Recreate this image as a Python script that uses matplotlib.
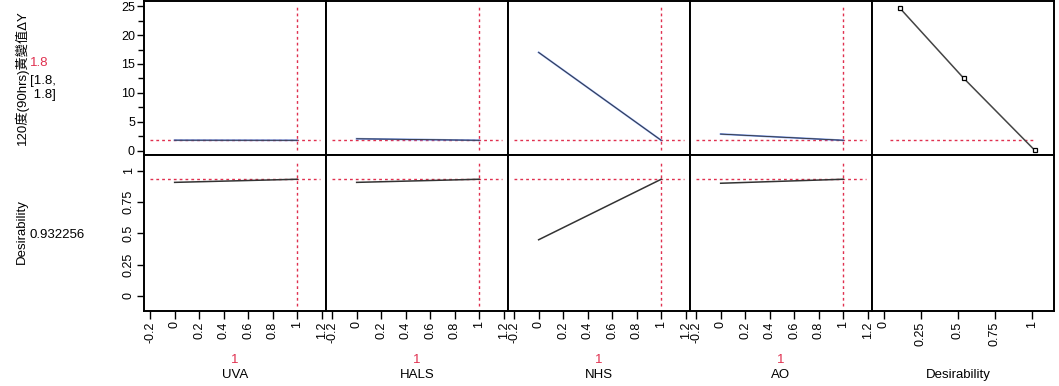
import numpy as np
import matplotlib
matplotlib.use("Agg")
import matplotlib.pyplot as plt
from matplotlib.ticker import MultipleLocator

plt.rcParams['font.family'] = ['Liberation Sans', 'Noto Sans CJK TC', 'DejaVu Sans']
plt.rcParams['font.size'] = 9

# profiler data
factors = ["UVA", "HALS", "NHS", "AO"]
factor_lo = [0, 0, 0, 0]
factor_hi = [1, 1, 1, 1]
current_x = [1, 1, 1, 1]
y_at_lo = [1.82, 2.07, 17.0, 2.88]
y_at_hi = [1.8, 1.8, 1.8, 1.8]
d_at_lo = [0.907, 0.907, 0.448, 0.900]
d_at_hi = [0.932, 0.932, 0.932, 0.932]
current_y = 1.8
current_d = 0.932256
y_ci = "[1.8,\n 1.8]"
resp_label = "120度(90hrs)黃變值ΔY"

# desirability function handles
desir_x = [0.106, 0.54, 1.018]
desir_y = [24.7, 12.5, 0.1]

red = "#e0304f"
W, H = 1059, 386
fig = plt.figure(figsize=(W / 100, H / 100), dpi=100)

def px_axes(x0, y0, x1, y1):
    return fig.add_axes([x0 / W, 1 - y1 / H, (x1 - x0) / W, (y1 - y0) / H])

col_x = [144, 326, 508, 690, 872, 1054]
row_y = [0.5, 155, 311]
fxlim = (-0.25, 1.235)
ylim_top = (-0.74, 25.98)
ylim_bot = (-0.122, 1.126)

axes = {}
for r in range(2):
    for c in range(5):
        ax = px_axes(col_x[c], row_y[r], col_x[c + 1], row_y[r + 1])
        for s in ax.spines.values():
            s.set_linewidth(1.4)
        ax.set_ylim(ylim_top if r == 0 else ylim_bot)
        ax.set_xlim(fxlim if c < 4 else (-0.081, 1.149))
        ax.tick_params(axis='both', which='both', direction='out', labelsize=9, pad=1.5)
        if c > 0:
            ax.tick_params(axis='y', which='both', left=False, labelleft=False)
        if r == 0:
            ax.tick_params(axis='x', which='both', bottom=False, labelbottom=False)
        axes[(r, c)] = ax

# top-left y axis
a = axes[(0, 0)]
a.yaxis.set_major_locator(MultipleLocator(5))
a.yaxis.set_minor_locator(MultipleLocator(2.5))
a.tick_params(axis='y', which='major', length=5, width=1)
a.tick_params(axis='y', which='minor', length=4, width=1)

a = axes[(1, 0)]
a.set_yticks([0, 0.25, 0.5, 0.75, 1])
a.set_yticklabels(["0", "0.25", "0.5", "0.75", "1"], rotation=90, va='center')
a.tick_params(axis='y', length=5, width=1)

for c in range(4):
    a = axes[(1, c)]
    a.set_xticks([-0.2, 0, 0.2, 0.4, 0.6, 0.8, 1, 1.2])
    a.set_xticklabels(["-0.2", "0", "0.2", "0.4", "0.6", "0.8", "1", "1.2"], rotation=90)
    a.tick_params(axis='x', length=6, width=1)
a = axes[(1, 4)]
a.set_xticks([0, 0.25, 0.5, 0.75, 1])
a.set_xticklabels(["0", "0.25", "0.5", "0.75", "1"], rotation=90)
a.tick_params(axis='x', length=6, width=1)

dash = (0, (2, 2.2))
for c in range(4):
    xs = [factor_lo[c], factor_hi[c]]
    at = axes[(0, c)]
    at.axhline(current_y, xmin=0.035, xmax=0.965, color=red, lw=1, ls=dash)
    at.axvline(current_x[c], ymin=0.03, ymax=0.957, color=red, lw=1, ls=dash)
    at.plot(xs, [y_at_lo[c], y_at_hi[c]], color="#4a74e0", lw=1.3, alpha=0.8)
    at.plot(xs, [y_at_lo[c], y_at_hi[c]], color="#333333", lw=0.6)
    ab = axes[(1, c)]
    ab.axhline(current_d, xmin=0.035, xmax=0.965, color=red, lw=1, ls=dash)
    ab.axvline(current_x[c], ymin=0.03, ymax=0.957, color=red, lw=1, ls=dash)
    ab.plot(xs, [d_at_lo[c], d_at_hi[c]], color="#333333", lw=1.1)
    fig.text((col_x[c] + col_x[c + 1]) / 2 / W, 1 - 360 / H, "1", color=red,
             ha='center', va='center', fontsize=9.5)
    fig.text((col_x[c] + col_x[c + 1]) / 2 / W, 1 - 375 / H, factors[c],
             ha='center', va='center', fontsize=9.5)

ad = axes[(0, 4)]
ad.plot([0.04, 1.02], [current_y, current_y], color=red, lw=1, ls=dash)
ad.plot(desir_x, desir_y, color="#444444", lw=1.1, marker='s', ms=3.5,
        mfc='white', mec='black', mew=0.9)
fig.text(958 / W, 1 - 375 / H, "Desirability", ha='center', va='center', fontsize=9.5)

# left response labels
fig.text(22 / W, 1 - 78 / H, resp_label, rotation=90, ha='center', va='center', fontsize=9.5)
fig.text(30 / W, 1 - 63 / H, "1.8", color=red, ha='left', va='center', fontsize=9.5)
fig.text(30 / W, 1 - 88 / H, y_ci, ha='left', va='center', fontsize=9.5, linespacing=1.3)
fig.text(22 / W, 1 - 232 / H, "Desirability", rotation=90, ha='center', va='center', fontsize=9.5)
fig.text(30 / W, 1 - 235 / H, "0.932256", ha='left', va='center', fontsize=9.5)

fig.savefig("out.png", dpi=100)
